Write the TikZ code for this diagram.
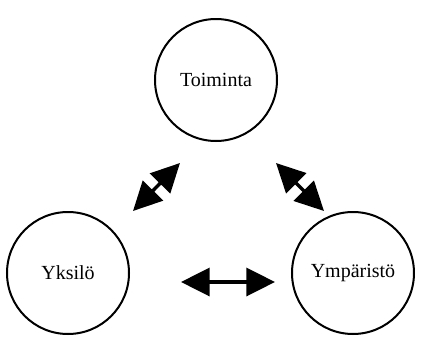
\documentclass[tikz,border=0pt]{standalone}
\usepackage{fontspec}
\setmainfont{Liberation Serif}
\usetikzlibrary{arrows.meta}

\tikzset{
ring/.style={circle, draw=black, line width=1.5pt, minimum size=91.5pt, inner sep=0pt, font=\fontsize{15}{18}\selectfont},
dblarrow/.style={black, line width=2.6pt, {Triangle[length=21.5pt,width=21pt]}-{Triangle[length=21.5pt,width=21pt]}}
}

\begin{document}
\begin{tikzpicture}[x=0.75pt,y=-0.75pt]
\useasboundingbox (0,0) rectangle (437,358);

\node [ring] (toim) at (216,80) {Toiminta};
\node [ring] (yks) at (68,273) {Yksilö};
\node [ring] (ymp) at (353,273) {Ympäristö};

\coordinate (yt1) at (133,211);
\coordinate (yt2) at (180,163);
\coordinate (tm1) at (276,163);
\coordinate (tm2) at (324,211);
\coordinate (ym1) at (181,282);
\coordinate (ym2) at (275,282);

\draw [dblarrow] (yt1) -- (yt2);
\draw [dblarrow] (tm1) -- (tm2);
\draw [dblarrow] (ym1) -- (ym2);

\end{tikzpicture}
\end{document}
